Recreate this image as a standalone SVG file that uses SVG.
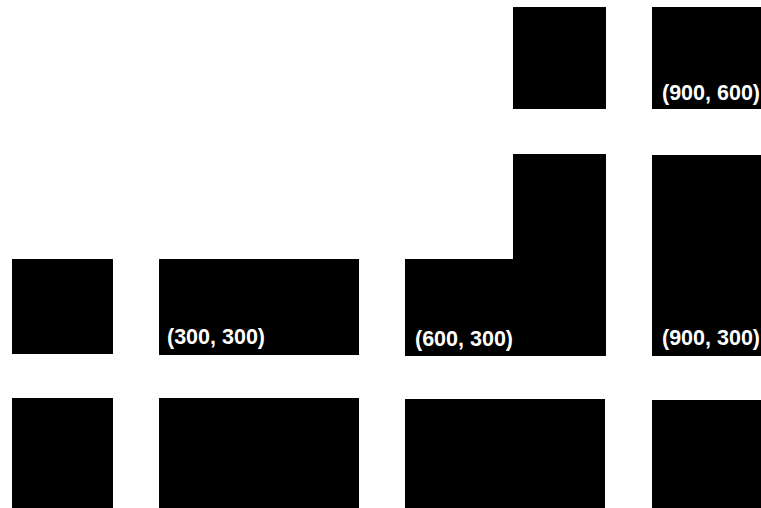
<svg xmlns="http://www.w3.org/2000/svg" width="761" height="508" viewBox="0 0 761 508">
<style>
.b{fill:#000}
.t{fill:#fff;font-family:"Liberation Sans",Arial,sans-serif;font-weight:bold;font-size:21.5px}
</style>
<rect width="761" height="508" fill="#fff"/>
<g id="n1"><rect class="b" x="513" y="7" width="93" height="102"/></g>
<g id="n2"><rect class="b" x="652" y="7" width="109" height="102"/><text class="t" x="662" y="100">(900, 600)</text></g>
<g id="n3"><path class="b" d="M513,154 H606 V356 H405 V259 H513 Z"/><text class="t" x="415" y="346">(600, 300)</text></g>
<g id="n4"><rect class="b" x="652" y="155" width="109" height="201"/><text class="t" x="662" y="345">(900, 300)</text></g>
<g id="n5"><rect class="b" x="12" y="259" width="101" height="95"/></g>
<g id="n6"><rect class="b" x="159" y="259" width="200" height="96"/><text class="t" x="167" y="344">(300, 300)</text></g>
<g id="n7"><rect class="b" x="12" y="398" width="101" height="110"/></g>
<g id="n8"><rect class="b" x="159" y="398" width="200" height="110"/></g>
<g id="n9"><rect class="b" x="405" y="399" width="200" height="109"/></g>
<g id="n10"><rect class="b" x="652" y="400" width="109" height="108"/></g>
<g id="connectors"/>
</svg>
